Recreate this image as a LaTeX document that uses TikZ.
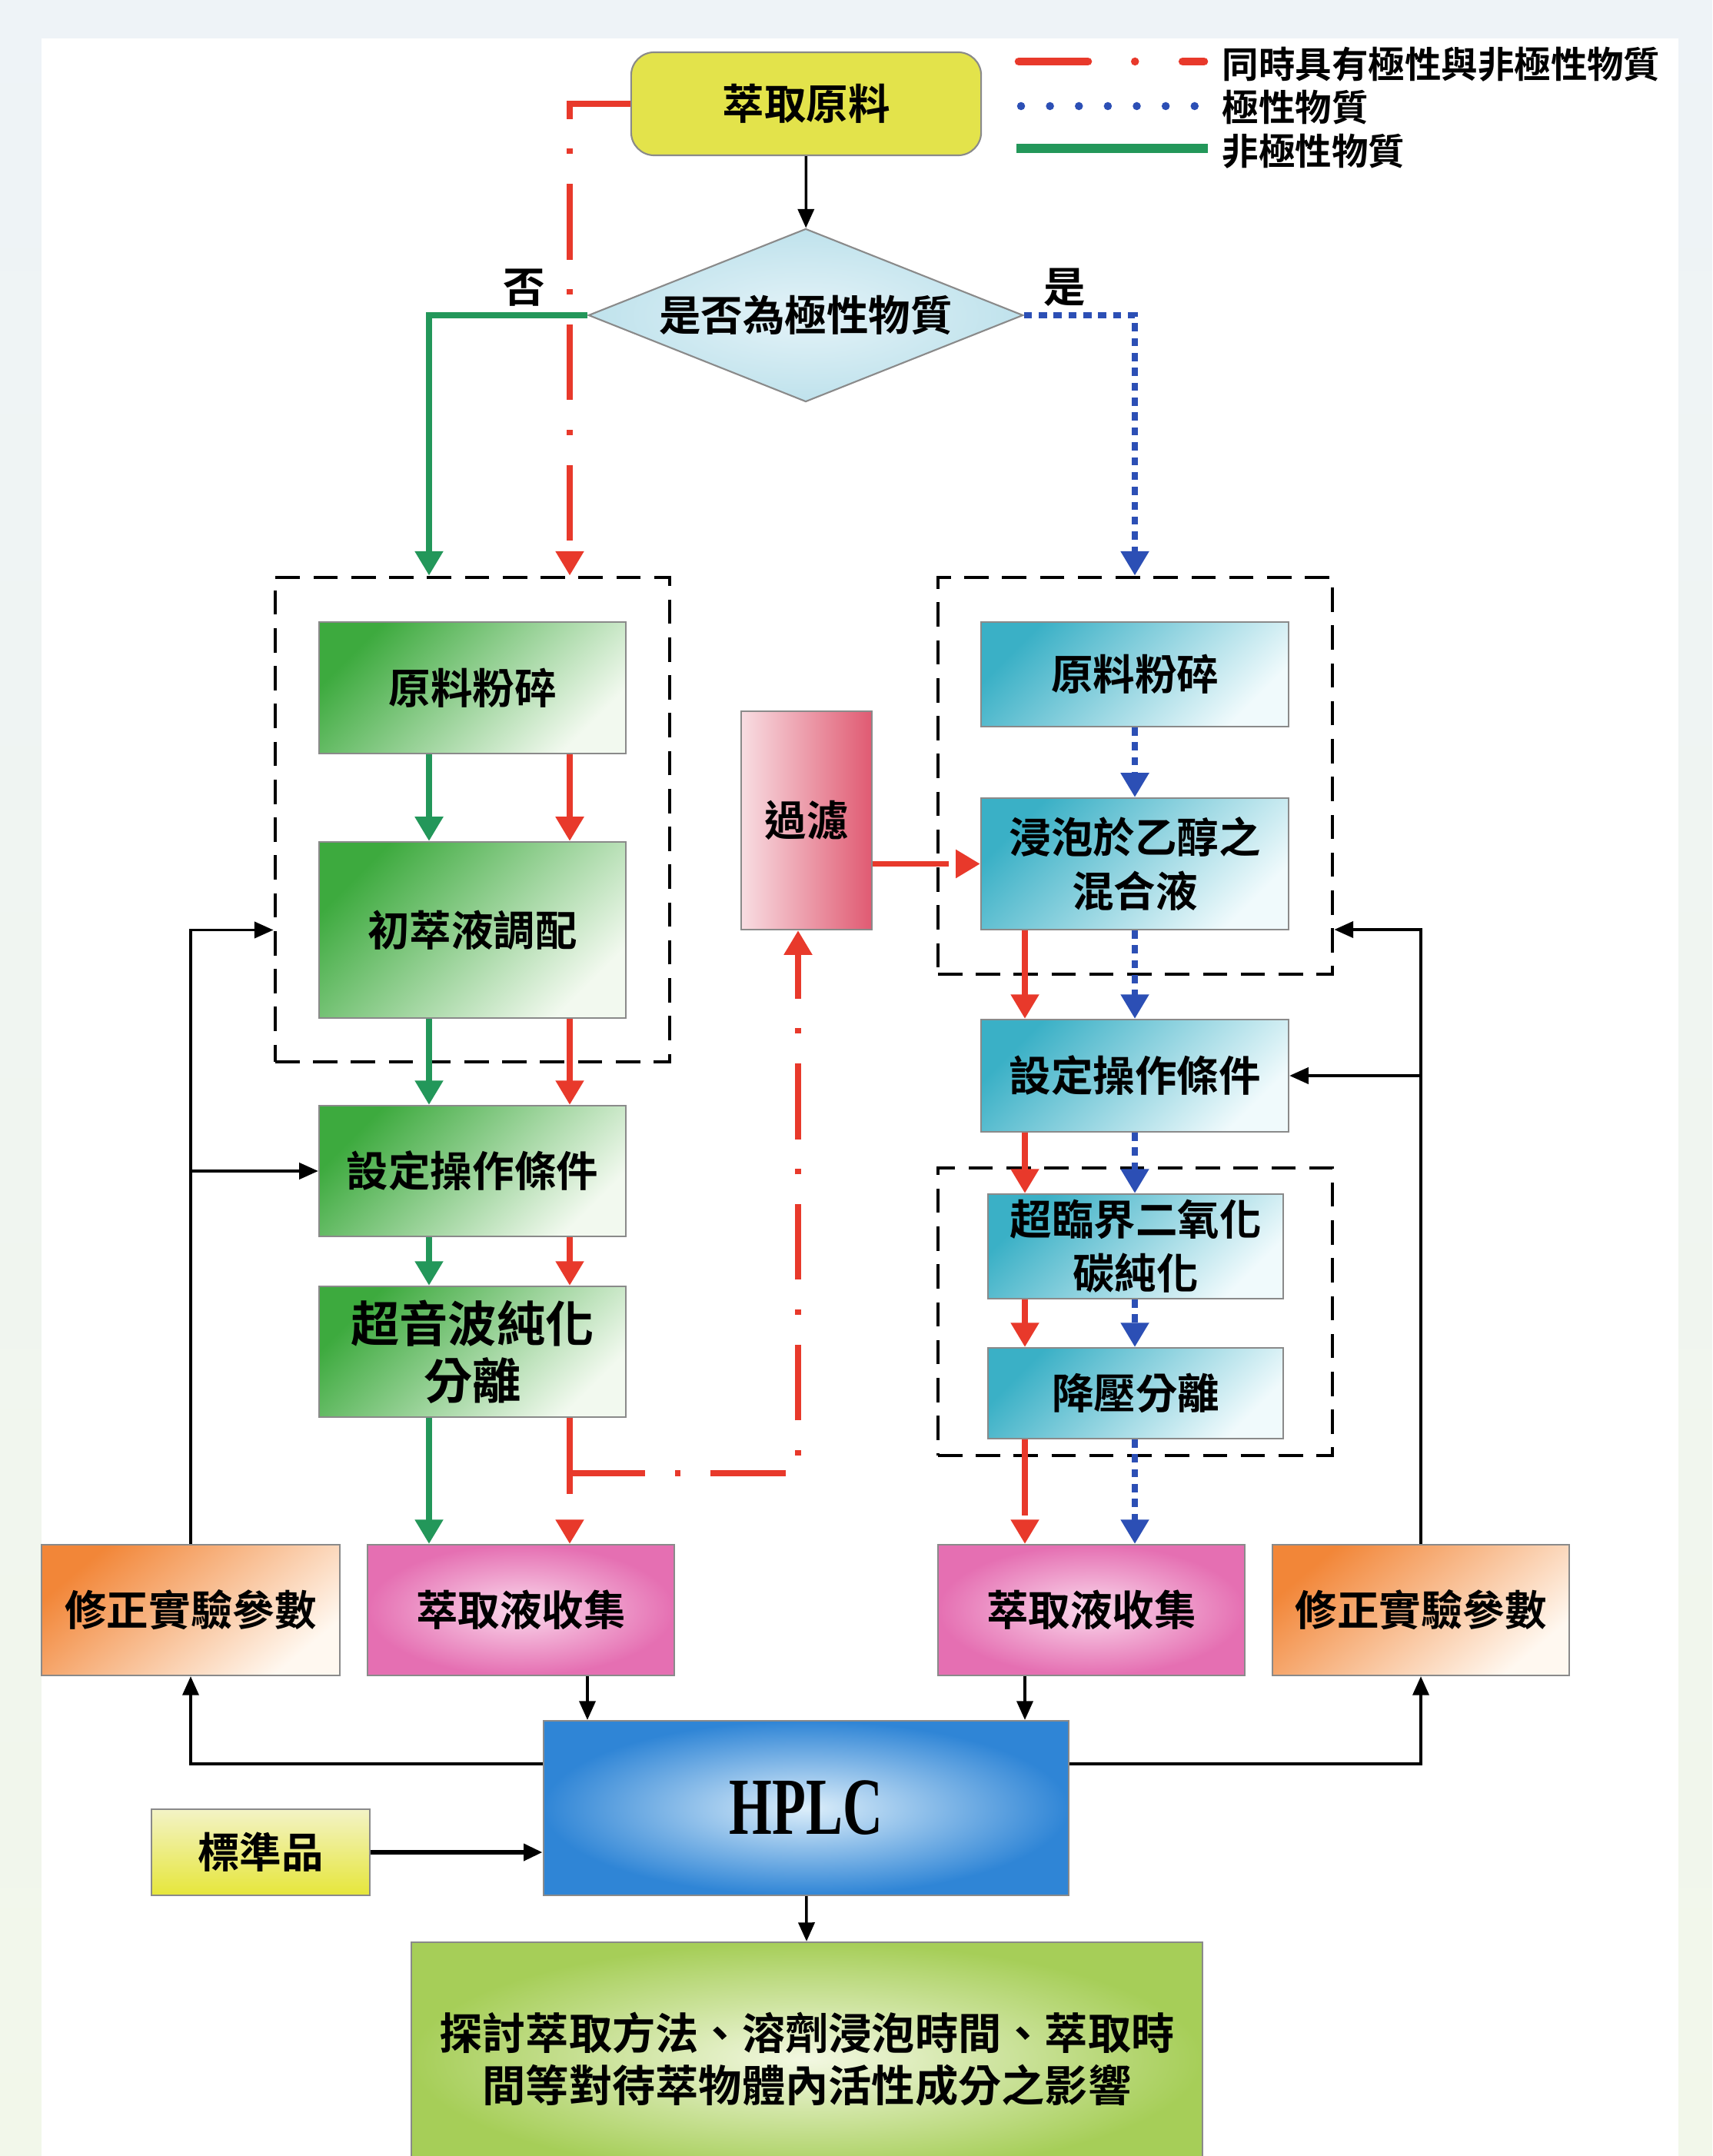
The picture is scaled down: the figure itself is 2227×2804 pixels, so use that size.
\documentclass[tikz,border=0pt]{standalone}
\usepackage{fontspec}
\setmainfont{Liberation Serif}
\newfontfamily\cjk{Noto Sans CJK TC}[BoldFont={Noto Sans CJK TC Bold}]
\usetikzlibrary{shapes,arrows.meta}

\definecolor{bgtop}{HTML}{EEF3F7}
\definecolor{bgbot}{HTML}{F2F7EA}
\definecolor{grnline}{HTML}{23975A}
\definecolor{redline}{HTML}{E8392B}
\definecolor{bluline}{HTML}{2C4FB5}
\definecolor{boxline}{HTML}{8A8A8A}
\definecolor{rawyel}{HTML}{E3E34B}
\definecolor{diaout}{HTML}{BFE2EC}
\definecolor{diain}{HTML}{E4F3F8}
\definecolor{gtop}{HTML}{3DAA3E}
\definecolor{gbot}{HTML}{F2F9EF}
\definecolor{ctop}{HTML}{3AB0C6}
\definecolor{cbot}{HTML}{F0FAFC}
\definecolor{pout}{HTML}{E56FB2}
\definecolor{pin}{HTML}{FAD9EC}
\definecolor{otop}{HTML}{F28638}
\definecolor{obot}{HTML}{FFF8F0}
\definecolor{fleft}{HTML}{F8DDE2}
\definecolor{fright}{HTML}{E05A72}
\definecolor{hout}{HTML}{2F85D6}
\definecolor{hin}{HTML}{DCEEFA}
\definecolor{stop}{HTML}{F3F3C6}
\definecolor{sbot}{HTML}{E6E63A}
\definecolor{eout}{HTML}{A6CE58}
\definecolor{ein}{HTML}{F3F8E2}

\tikzset{
  box/.style={shape=rectangle,draw=boxline,line width=0.6pt,align=center,inner sep=0pt,font=\cjk\bfseries\fontsize{15.5}{20}\selectfont},
  greenbox/.style={box,top color=gtop,bottom color=gbot,shading angle=45},
  cyanbox/.style={box,top color=ctop,bottom color=cbot,shading angle=45},
  pinkbox/.style={box,inner color=pin,outer color=pout},
  orangebox/.style={box,top color=otop,bottom color=obot,shading angle=40},
  frame/.style={shape=rectangle,draw=black,dash pattern=on 9pt off 5pt,line width=1.3pt,inner sep=0pt},
  legtext/.style={anchor=west,inner sep=0pt,font=\cjk\bfseries\fontsize{13.5}{16}\selectfont},
  gflow/.style={draw=grnline,line width=2.2pt,-{Triangle[width=10pt,length=9pt]}},
  rflow/.style={draw=redline,line width=2.2pt,dash pattern=on 28pt off 11pt on 2pt off 11pt,-{Triangle[width=10pt,length=9pt]}},
  bflow/.style={draw=bluline,line width=2.2pt,dash pattern=on 3pt off 2.5pt,-{Triangle[width=10pt,length=9pt]}},
  blk/.style={draw=black,line width=1pt,-{Triangle[width=6pt,length=7pt]}}
}

\begin{document}
\begin{tikzpicture}[x=0.01cm,y=-0.01cm]
\useasboundingbox (0,0) rectangle (2227,2804);
\clip (0,0) rectangle (2227,2804);
\fill[top color=bgtop,bottom color=bgbot] (0,0) rectangle (2227,2804);
\fill[white] (54,50) rectangle (2183,2804);

\coordinate (gl) at (558,0);
\coordinate (rl) at (741,0);
\coordinate (rr) at (1333,0);
\coordinate (bl) at (1476,0);
\coordinate (hl) at (764,0);
\coordinate (fl) at (1038,1916);
\coordinate (fy) at (0,1209);
\coordinate (hy) at (0,2294);

\node[frame,minimum width=5.13cm,minimum height=6.30cm] (19) at (614.5,1066) {};
\node[frame,minimum width=5.13cm,minimum height=5.16cm] (20) at (1476.5,1009) {};
\node[frame,minimum width=5.13cm,minimum height=3.74cm] (21) at (1476.5,1706) {};

\node[box,fill=rawyel,rounded corners=0.3cm,minimum width=4.55cm,minimum height=1.34cm] (0) at (1048.5,135) {萃取原料};
\node[box,shape=diamond,aspect=2.5,inner color=diain,outer color=diaout,minimum width=5.65cm,minimum height=2.25cm] (1) at (1048,410) {是否為極性物質};

\node[greenbox,minimum width=3.99cm,minimum height=1.71cm] (2) at (614.5,894.5) {原料粉碎};
\node[greenbox,minimum width=3.99cm,minimum height=2.29cm] (3) at (614.5,1209.5) {初萃液調配};
\node[greenbox,minimum width=3.99cm,minimum height=1.70cm] (4) at (614.5,1523) {設定操作條件};
\node[greenbox,minimum width=3.99cm,minimum height=1.70cm,font=\cjk\bfseries\fontsize{18}{21}\selectfont] (5) at (614.5,1758) {超音波純化\\分離};
\node[pinkbox,minimum width=3.99cm,minimum height=1.70cm] (6) at (677.5,2094) {萃取液收集};
\node[orangebox,minimum width=3.88cm,minimum height=1.70cm] (7) at (248,2094) {修正實驗參數};
\node[box,left color=fleft,right color=fright,minimum width=1.70cm,minimum height=2.84cm] (8) at (1049,1067) {過濾};

\node[cyanbox,minimum width=4.00cm,minimum height=1.36cm] (9) at (1476,877) {原料粉碎};
\node[cyanbox,minimum width=4.00cm,minimum height=1.71cm] (10) at (1476,1123.5) {浸泡於乙醇之\\混合液};
\node[cyanbox,minimum width=4.00cm,minimum height=1.46cm] (11) at (1476,1399) {設定操作條件};
\node[cyanbox,minimum width=3.84cm,minimum height=1.36cm] (12) at (1477,1621) {超臨界二氧化\\碳純化};
\node[cyanbox,minimum width=3.84cm,minimum height=1.18cm] (13) at (1477,1812) {降壓分離};
\node[pinkbox,minimum width=3.99cm,minimum height=1.70cm] (14) at (1419.5,2094) {萃取液收集};
\node[orangebox,minimum width=3.86cm,minimum height=1.70cm] (15) at (1848,2094) {修正實驗參數};

\node[box,inner color=hin,outer color=hout,minimum width=6.83cm,minimum height=2.27cm,font=\bfseries\fontsize{30}{32}\selectfont] (16) at (1048.5,2351.5) {\scalebox{0.68}[1]{HPLC}};
\node[box,top color=stop,bottom color=sbot,minimum width=2.84cm,minimum height=1.12cm] (17) at (339,2409) {標準品};
\node[box,inner color=ein,outer color=eout,minimum width=10.29cm,minimum height=3.04cm,font=\cjk\bfseries\fontsize{16}{19.3}\selectfont] (18) at (1049.5,2678) {探討萃取方法、溶劑浸泡時間、萃取時\\間等對待萃物體內活性成分之影響};

\node[legtext] (22) at (1589,84) {同時具有極性與非極性物質};
\node[legtext] (23) at (1589,140) {極性物質};
\node[legtext] (24) at (1589,197) {非極性物質};
\draw[redline,line width=3pt,line cap=round,dash pattern=on 25.6pt off 17.4pt on 0pt off 17.6pt] (1325,80) -- (1566,80);
\draw[bluline,line width=3pt,line cap=round,dash pattern=on 0pt off 10.7pt] (1328,138) -- (1555,138);
\draw[grnline,line width=3.5pt] (1322,193) -- (1571,193);

\node[font=\cjk\bfseries\fontsize{15.5}{18}\selectfont] (25) at (682,374) {否};
\node[font=\cjk\bfseries\fontsize{15.5}{18}\selectfont] (26) at (1385,374) {是};

\draw [blk] (0) -- (1);
\draw [gflow] (1.west) -| (gl |- 19.north);
\draw [rflow] (0.west) -| (rl |- 19.north);
\draw [bflow] (1.east) -| (bl |- 20.north);

\draw [gflow] (2.south -| gl) -- (3.north -| gl);
\draw [gflow] (3.south -| gl) -- (4.north -| gl);
\draw [gflow] (4.south -| gl) -- (5.north -| gl);
\draw [gflow] (5.south -| gl) -- (6.north -| gl);
\draw [rflow] (2.south -| rl) -- (3.north -| rl);
\draw [rflow] (3.south -| rl) -- (4.north -| rl);
\draw [rflow] (4.south -| rl) -- (5.north -| rl);
\draw [rflow] (5.south -| rl) -- (6.north -| rl);
\draw [rflow] (rl |- fl) -- (fl) -- (fl |- 8.south);
\draw [rflow] (8.east |- 10.west) -- (10.west);

\draw [bflow] (9.south -| bl) -- (10.north -| bl);
\draw [bflow] (10.south -| bl) -- (11.north -| bl);
\draw [bflow] (11.south -| bl) -- (12.north -| bl);
\draw [bflow] (12.south -| bl) -- (13.north -| bl);
\draw [bflow] (13.south -| bl) -- (14.north -| bl);
\draw [rflow] (10.south -| rr) -- (11.north -| rr);
\draw [rflow] (11.south -| rr) -- (12.north -| rr);
\draw [rflow] (12.south -| rr) -- (13.north -| rr);
\draw [rflow] (13.south -| rr) -- (14.north -| rr);

\draw [blk] (6.south -| hl) -- (16.north -| hl);
\draw [blk] (14.south -| rr) -- (16.north -| rr);
\draw [blk] (16.west |- hy) -| (7.south);
\draw [blk] (16.east |- hy) -| (15.south);
\draw [blk] (7.north) |- (19.west |- 3.center);
\draw [blk] (7.north |- 4.west) -- (4.west);
\draw [blk] (15.north) |- (20.east |- fy);
\draw [blk] (15.north |- 11.east) -- (11.east);
\draw [blk,line width=1.8pt] (17.east) -- (16.west |- 17.east);
\draw [blk] (16) -- (18);
\end{tikzpicture}
\end{document}
